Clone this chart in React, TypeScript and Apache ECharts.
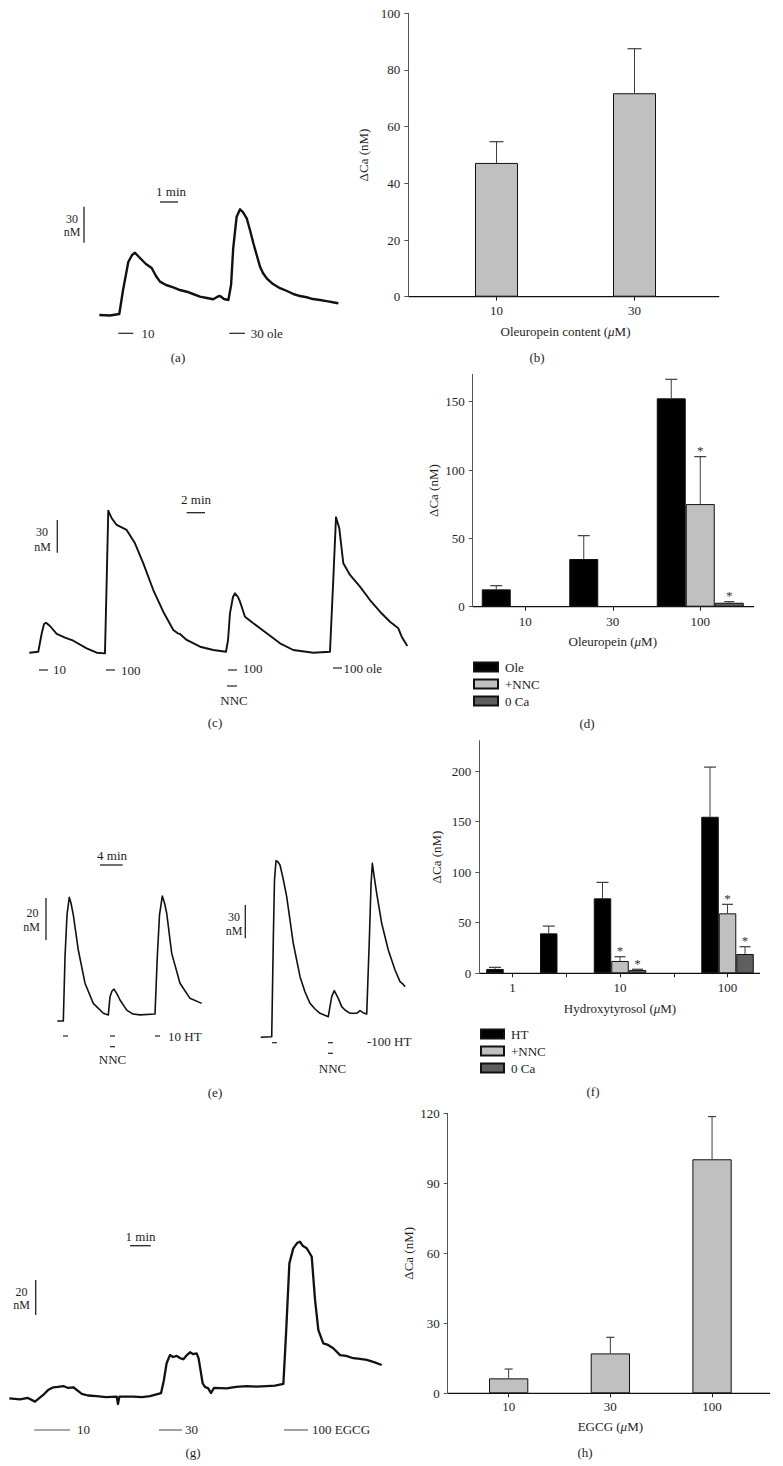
import React, { useEffect, useRef } from 'react';
import * as echarts from 'echarts';

const FONT = '"Liberation Serif", "Times New Roman", serif';
const INK = '#1e1e1e';

// ---------- (b) Oleuropein content ----------
const bCategories = ['10', '30'];
const bValues = [47.2, 71.8];
const bErrors = [7.5, 15.7];

// ---------- (d) Oleuropein ----------
const dCategories = ['10', '30', '100'];
const dOle = [12.7, 34.9, 152.5];
const dOleErr = [2.7, 17.1, 13.9];
const dNNC = [null, null, 75.1];
const dNNCErr = [null, null, 34.7];
const dZeroCa = [null, null, 2.9];
const dZeroCaErr = [null, null, 0.8];
const dNNCStar = [false, false, true];
const dZeroCaStar = [false, false, true];
const dTicks = [0, 50, 100, 150];

// ---------- (f) Hydroxytyrosol ----------
const fCategories = ['1', '3', '10', '30', '100'];
const fTickLabels = ['1', '', '10', '', '100'];
const fHT = [4.3, 39.5, 74.1, null, 154.8];
const fHTErr = [1.6, 7.2, 15.8, null, 49.1];
const fNNC = [null, null, 12.2, null, 59.3];
const fNNCErr = [null, null, 4.2, null, 8.9];
const fZeroCa = [null, null, 3.3, null, 19.1];
const fZeroCaErr = [null, null, 0.7, null, 7.2];
const fNNCStar = [false, false, true, false, true];
const fZeroCaStar = [false, false, true, false, true];
const fTicks = [0, 50, 100, 150, 200];

// ---------- (h) EGCG ----------
const hCategories = ['10', '30', '100'];
const hValues = [6.4, 17.1, 100.3];
const hErrors = [4.0, 6.9, 18.3];

// ---------- Ca traces: [time (min), ΔCa (nM)] ----------
const traceA = [[0,0],[0.59,-0.4],[1.11,0.8],[1.32,20.8],[1.61,44.2],[1.82,50.0],[1.98,51.9],[2.26,47.5],[2.59,42.5],[2.91,39.2],[3.15,32.5],[3.37,27.8],[3.71,25.0],[4.11,23.1],[4.48,20.8],[4.86,19.4],[5.21,17.5],[5.59,15.3],[5.98,14.2],[6.33,13.1],[6.59,15.4],[6.71,15.8],[6.93,13.3],[7.17,12.5],[7.32,25.0],[7.44,55.8],[7.63,81.9],[7.82,88.1],[7.98,85.8],[8.19,80.6],[8.37,70.8],[8.56,59.8],[8.76,49.2],[8.93,40.3],[9.09,35.0],[9.30,30.6],[9.65,25.8],[10.04,22.3],[10.43,20.0],[10.78,17.5],[11.15,15.8],[11.52,14.8],[11.87,13.3],[12.26,12.5],[12.71,11.3],[13.04,10.4],[13.28,9.8]];

const traceC = [[0,0],[0.98,0.9],[1.36,17.8],[1.61,26.3],[1.83,27.5],[2.26,24.5],[2.99,17.2],[3.90,13.9],[4.81,11.0],[6.27,4.0],[7.37,0],[8.27,-0.6],[8.46,66.7],[8.63,130.3],[9.01,123.3],[9.55,117.2],[10.64,112.6],[11.55,100.4],[12.46,82.0],[13.55,57.5],[14.64,37.6],[15.74,20.8],[16.22,17.8],[16.47,17.2],[17.20,11.7],[18.66,5.5],[20.11,2.5],[21.50,0.9],[21.72,11.7],[21.93,36.1],[22.26,51.1],[22.48,54.5],[22.81,51.1],[23.03,46.8],[23.57,33.0],[24.48,27.0],[25.95,17.8],[27.40,8.6],[28.85,2.5],[31.04,0],[32.86,0.9],[33.22,66.7],[33.52,124.2],[33.88,114.1],[34.32,82.0],[35.05,71.3],[36.14,60.6],[37.23,48.3],[38.33,37.6],[39.42,28.4],[40.33,22.4],[40.70,14.7],[41.31,6.1]];

const traceE1 = [[0,0],[1.06,0],[1.36,30.6],[1.71,50.5],[2.11,58.9],[2.41,56.2],[2.82,50.5],[3.70,33.8],[4.88,18.0],[6.34,8.4],[8.11,3.7],[8.99,2.9],[9.29,11.6],[9.64,14.3],[9.99,15.2],[10.52,12.9],[11.05,10.0],[12.23,5.2],[13.34,3.3],[14.57,2.9],[17.22,3.3],[17.62,30.6],[18.01,50.5],[18.50,59.5],[18.89,56.2],[19.28,51.3],[20.16,32.2],[21.62,18.0],[23.38,10.8],[25.44,8.4]];

const traceE2 = [[0,0],[1.94,0.5],[2.22,87.7],[2.43,141.7],[2.70,159.1],[3.05,157.9],[3.40,155.2],[3.93,143.5],[4.58,126.7],[5.16,105.7],[5.74,84.7],[6.93,54.6],[7.81,40.8],[8.69,30.6],[9.57,25.5],[10.45,21.6],[11.91,18.6],[12.51,36.6],[12.97,42.0],[13.67,35.1],[14.27,27.6],[14.85,24.6],[15.74,21.6],[16.92,21.6],[17.50,24.0],[18.03,22.2],[18.68,21.0],[19.14,87.7],[19.44,137.2],[19.67,156.8],[19.96,146.2],[20.44,129.7],[21.32,102.7],[22.48,78.6],[23.67,60.6],[24.55,50.1],[25.07,48.0],[25.43,45.6]];

const traceG = [[0,0],[0.52,-0.6],[0.90,0.2],[1.24,-1.9],[1.64,1.9],[1.87,4.7],[2.13,6.3],[2.35,6.5],[2.61,7.0],[2.84,5.9],[3.09,6.3],[3.32,4.2],[3.50,2.5],[3.80,1.6],[4.22,1.3],[4.67,0.7],[5.19,0.9],[5.25,-3.3],[5.32,1.0],[5.99,0.9],[6.41,0.7],[6.80,1.3],[7.33,2.9],[7.47,10.5],[7.60,20.0],[7.76,24.7],[7.91,23.6],[8.09,24.2],[8.25,23.0],[8.41,22.3],[8.58,24.7],[8.73,26.3],[8.87,25.3],[9.05,25.7],[9.14,23.0],[9.21,18.1],[9.34,8.6],[9.45,6.5],[9.61,5.7],[9.74,3.0],[9.89,5.9],[10.50,5.7],[10.95,6.5],[11.47,7.0],[11.92,6.7],[12.43,7.0],[12.84,7.3],[13.24,8.2],[13.37,37.1],[13.53,77.1],[13.72,85.7],[13.90,88.7],[14.04,89.5],[14.19,87.0],[14.37,85.7],[14.48,83.6],[14.61,80.9],[14.77,56.2],[14.93,39.0],[15.17,31.4],[15.40,30.5],[15.65,28.6],[15.98,24.7],[16.27,24.2],[16.62,22.9],[16.94,22.5],[17.27,21.9],[17.62,20.7],[17.99,19.0]];

// ---------- layout helpers ----------
const txt = (size = 13) => ({ color: INK, fontFamily: FONT, fontSize: size });

function traceLayout(x0: number, y0: number, pxPerMin: number, pxPerNM: number, tMax: number, caMin: number, caMax: number) {
  return {
    grid: { left: x0, top: y0 - caMax * pxPerNM, width: tMax * pxPerMin, height: (caMax - caMin) * pxPerNM, outerBoundsMode: 'none' },
    x: { min: 0, max: tMax },
    y: { min: caMin, max: caMax },
  };
}

const traceLayouts = [
  traceLayout(99.3, 315, 18, 1.2, 13.3, -5, 90),
  traceLayout(29.3, 652.7, 9.15, 1.09, 41.5, -5, 140),
  traceLayout(57.3, 1021, 5.675, 2.1, 25.5, -3, 62),
  traceLayout(260.7, 1037.3, 5.675, 1.11, 25.5, -5, 165),
  traceLayout(9.3, 1398.3, 20.7, 1.75, 18.1, -5, 92),
];
const traces = [traceA, traceC, traceE1, traceE2, traceG];
const traceWidths = [2.4, 1.9, 1.6, 1.6, 2.3];

const barGrids = [
  { left: 427.5, top: 13.3, width: 276, height: 283.4, outerBoundsMode: 'none' },
  { left: 481.5, top: 374.4, width: 262.5, height: 232.3, outerBoundsMode: 'none' },
  { left: 485.6, top: 740.7, width: 268.8, height: 232.6, outerBoundsMode: 'none' },
  { left: 457.8, top: 1113.3, width: 305.1, height: 280, outerBoundsMode: 'none' },
];

const xCat = (gridIndex: number, data: string[], name: string, nameGap: number, margin: number, labels?: string[]) => ({
  type: 'category',
  gridIndex,
  data,
  axisLine: { show: false },
  axisTick: { show: true, alignWithLabel: true, length: 4, interval: 0, lineStyle: { color: INK, width: 1 } },
  axisLabel: { ...txt(13), margin, interval: 0, formatter: labels ? (_v: string, i: number) => labels[i] : undefined },
  name,
  nameLocation: 'middle',
  nameGap,
  nameMoveOverlap: false,
  nameTextStyle: { ...txt(13), rich: { i: { ...txt(13), fontStyle: 'italic' } } },
});

const yVal = (gridIndex: number, max: number, interval: number, offset: number, nameGap: number, ticks?: number[]) => ({
  type: 'value',
  gridIndex,
  min: 0,
  max,
  interval,
  offset,
  axisLine: { show: true, lineStyle: { color: '#555', width: 1 } },
  axisTick: { show: true, length: 4, lineStyle: { color: '#555', width: 1 }, ...(ticks ? { customValues: ticks } : {}) },
  axisLabel: { ...txt(13), margin: 8, ...(ticks ? { customValues: ticks, formatter: (v: number) => (ticks.includes(v) ? String(v) : '') } : {}) },
  splitLine: { show: false },
  name: 'ΔCa (nM)',
  nameLocation: 'middle',
  nameGap,
  nameMoveOverlap: false,
  nameTextStyle: txt(13),
});

const barSeries = (gridIndex: number, name: string, data: (number | null)[], color: string, barWidth: number) => ({
  type: 'bar',
  name,
  xAxisIndex: gridIndex,
  yAxisIndex: gridIndex,
  data: data.map((v) => (v == null ? '-' : v)),
  barWidth,
  barGap: '0%',
  silent: true,
  itemStyle: { color, borderColor: '#111', borderWidth: 1 },
});

const errorSeries = (gridIndex: number, values: (number | null)[], errors: (number | null)[], stars: boolean[] | null, shift: number, cap: number) => ({
  type: 'custom',
  xAxisIndex: gridIndex,
  yAxisIndex: gridIndex,
  z: 5,
  silent: true,
  clip: false,
  itemStyle: { color: '#333' },
  data: values
    .map((v, i) => (v == null ? null : [i, v, errors[i] ?? 0, stars && stars[i] ? 1 : 0]))
    .filter((d) => d !== null),
  renderItem: (_p: any, api: any) => {
    const i = api.value(0);
    const v = api.value(1);
    const e = api.value(2);
    const s = api.value(3);
    const p0 = api.coord([i, v]);
    const p1 = api.coord([i, v + e]);
    const x = p0[0] + shift;
    const stroke = '#3c3c3c';
    const children: any[] = [
      { type: 'line', shape: { x1: x, y1: p0[1], x2: x, y2: p1[1] }, style: { stroke, lineWidth: 1 } },
      { type: 'line', shape: { x1: x - cap / 2, y1: p1[1], x2: x + cap / 2, y2: p1[1] }, style: { stroke, lineWidth: 1.2 } },
    ];
    if (s) {
      children.push({
        type: 'text',
        x,
        y: p1[1] - 6,
        style: { text: '*', font: `13px ${FONT}`, fill: '#333', textFill: '#333', textAlign: 'center', textVerticalAlign: 'middle', align: 'center', verticalAlign: 'middle' },
      });
    }
    return { type: 'group', children };
  },
});

// graphic helpers
const L = (x1: number, y1: number, x2: number, y2: number, w = 1.2, c = '#222') => ({
  type: 'line', silent: true, shape: { x1, y1, x2, y2 }, style: { stroke: c, lineWidth: w },
});
const T = (x: number, y: number, text: string, align = 'center', size = 13) => ({
  type: 'text', silent: true, x, y,
  style: { text, font: `${size}px ${FONT}`, fill: INK, textAlign: align, textVerticalAlign: 'middle', align, verticalAlign: 'middle' },
});

const graphics = [
  // bar-panel x axis lines
  L(408.3, 296.7, 719.3, 296.7, 1.2, '#111'),
  L(472.7, 606.7, 754, 606.7, 1.2, '#111'),
  L(479.3, 973.3, 760, 973.3, 1.2, '#111'),
  L(447.7, 1393.3, 770, 1393.3, 1.2, '#111'),
  // panel letters
  T(178, 357, '(a)'), T(537, 357, '(b)'), T(215, 722, '(c)'), T(587, 723, '(d)'),
  T(215, 1092, '(e)'), T(593, 1091, '(f)'), T(193, 1452, '(g)'), T(585, 1452, '(h)'),
  // (a)
  T(171, 191.7, '1 min'), L(160, 202, 178, 202, 1.3),
  T(72, 219, '30', 'center', 12), T(72, 232, 'nM', 'center', 12), L(84, 206.7, 84, 242.7, 1.3),
  L(118.3, 333.3, 133.3, 333.3), T(141.5, 333.3, '10', 'left'),
  L(229.3, 333.3, 245, 333.3), T(250.7, 333.3, '30 ole', 'left'),
  // (c)
  T(196, 499, '2 min'), L(186.7, 512.7, 205, 512.7, 1.3),
  T(42, 531.7, '30', 'center', 12), T(42.5, 546.7, 'nM', 'center', 12), L(57.3, 520, 57.3, 552.7, 1.3),
  L(39, 670, 48, 670), T(53, 669, '10', 'left'),
  L(106, 670, 115, 670), T(121, 670, '100', 'left'),
  L(228, 670, 237, 670), T(243, 668, '100', 'left'),
  L(227, 686, 237, 686), T(234, 700, 'NNC'),
  L(333, 668, 342, 668), T(343.5, 668, '100 ole', 'left'),
  // (e)
  T(112, 855, '4 min'), L(100, 865, 122.7, 865, 1.3),
  T(32.5, 912.5, '20', 'center', 12), T(31.5, 926.5, 'nM', 'center', 12), L(46, 898, 46, 940, 1.3),
  T(234, 917.3, '30', 'center', 12), T(234, 930.5, 'nM', 'center', 12), L(245.3, 905, 245.3, 938.3, 1.3),
  L(63, 1036, 68, 1036), L(110, 1036, 115, 1036), L(110, 1046.7, 115, 1046.7), T(112.5, 1059, 'NNC'),
  L(155, 1036, 160, 1036), T(168, 1036, '10 HT', 'left'),
  L(272, 1042.7, 277, 1042.7), L(328, 1042.7, 333, 1042.7), L(328, 1053.3, 333, 1053.3), T(332.5, 1068.3, 'NNC'),
  T(367, 1041.7, '-100 HT', 'left'),
  // (g)
  T(140.5, 1236.7, '1 min'), L(130, 1245.7, 150.7, 1245.7, 1.3),
  T(21.5, 1291.5, '20', 'center', 12), T(21.7, 1305, 'nM', 'center', 12), L(35.7, 1280, 35.7, 1315, 1.3),
  L(34.3, 1430, 70, 1430, 1.1, '#555'), T(77, 1429.3, '10', 'left'),
  L(159, 1430, 182, 1430, 1.1, '#555'), T(185, 1429.3, '30', 'left'),
  L(284, 1430, 308, 1430, 1.1, '#555'), T(312, 1429.3, '100 EGCG', 'left'),
];

function buildOption() {
  const grid: any[] = [...barGrids, ...traceLayouts.map((t) => t.grid)];
  const xAxis: any[] = [
    xCat(0, bCategories, 'Oleuropein content ({i|μ}M)', 28, 7),
    xCat(1, dCategories, 'Oleuropein ({i|μ}M)', 28.5, 8),
    xCat(2, fCategories, 'Hydroxytyrosol ({i|μ}M)', 28.5, 8, fTickLabels),
    xCat(3, hCategories, 'EGCG ({i|μ}M)', 27, 7),
    ...traceLayouts.map((t, k) => ({ type: 'value', gridIndex: 4 + k, min: t.x.min, max: t.x.max, show: false })),
  ];
  const yAxis: any[] = [
    yVal(0, 100, 20, 19.2, 38.5),
    yVal(1, 170, 50, 8.8, 33, dTicks),
    yVal(2, 230, 50, 6.3, 36, fTicks),
    yVal(3, 120, 30, 10.1, 33),
    ...traceLayouts.map((t, k) => ({ type: 'value', gridIndex: 4 + k, min: t.y.min, max: t.y.max, show: false })),
  ];
  const series: any[] = [
    barSeries(0, 'Oleuropein', bValues, '#c0c0c0', 43),
    errorSeries(0, bValues, bErrors, null, 0, 14),

    barSeries(1, 'Ole', dOle, '#000000', 29),
    barSeries(1, '+NNC', dNNC, '#c0c0c0', 29),
    barSeries(1, '0 Ca', dZeroCa, '#5e5e5e', 29),
    errorSeries(1, dOle, dOleErr, null, -29, 12),
    errorSeries(1, dNNC, dNNCErr, dNNCStar, 0, 12),
    errorSeries(1, dZeroCa, dZeroCaErr, dZeroCaStar, 29, 10),

    barSeries(2, 'HT', fHT, '#000000', 17.5),
    barSeries(2, '+NNC', fNNC, '#c0c0c0', 17.5),
    barSeries(2, '0 Ca', fZeroCa, '#5e5e5e', 17.5),
    errorSeries(2, fHT, fHTErr, null, -17.5, 12),
    errorSeries(2, fNNC, fNNCErr, fNNCStar, 0, 11),
    errorSeries(2, fZeroCa, fZeroCaErr, fZeroCaStar, 17.5, 11),

    barSeries(3, 'EGCG', hValues, '#c0c0c0', 39.3),
    errorSeries(3, hValues, hErrors, null, 0, 8),

    ...traces.map((data, k) => ({
      type: 'line',
      xAxisIndex: 4 + k,
      yAxisIndex: 4 + k,
      data,
      symbol: 'none',
      showSymbol: false,
      clip: false,
      silent: true,
      lineStyle: { color: '#111', width: traceWidths[k], join: 'round' },
    })),
  ];
  const legendBase = {
    orient: 'vertical',
    icon: 'rect',
    itemWidth: 24,
    itemHeight: 9,
    itemGap: 4,
    padding: 0,
    selectedMode: false,
    textStyle: { ...txt(13), padding: [0, 0, 0, 2] },
  };
  return {
    animation: false,
    backgroundColor: '#ffffff',
    textStyle: { fontFamily: FONT },
    grid,
    xAxis,
    yAxis,
    series,
    legend: [
      { ...legendBase, left: 473, top: 660.5, data: ['Ole', '+NNC', '0 Ca'] },
      { ...legendBase, left: 480, top: 1027.5, itemWidth: 23, data: ['HT', '+NNC', '0 Ca'] },
    ],
    graphic: { elements: graphics },
  };
}

export default function App() {
  const ref = useRef<HTMLDivElement>(null);
  useEffect(() => {
    document.body.style.margin = '0';
    if (!ref.current) return;
    const chart = echarts.init(ref.current, null, { renderer: 'svg' });
    chart.setOption(buildOption() as any);
    return () => chart.dispose();
  }, []);
  return <div ref={ref} style={{ position: 'absolute', left: 0, top: 0, width: 783, height: 1466, background: '#fff' }} />;
}
